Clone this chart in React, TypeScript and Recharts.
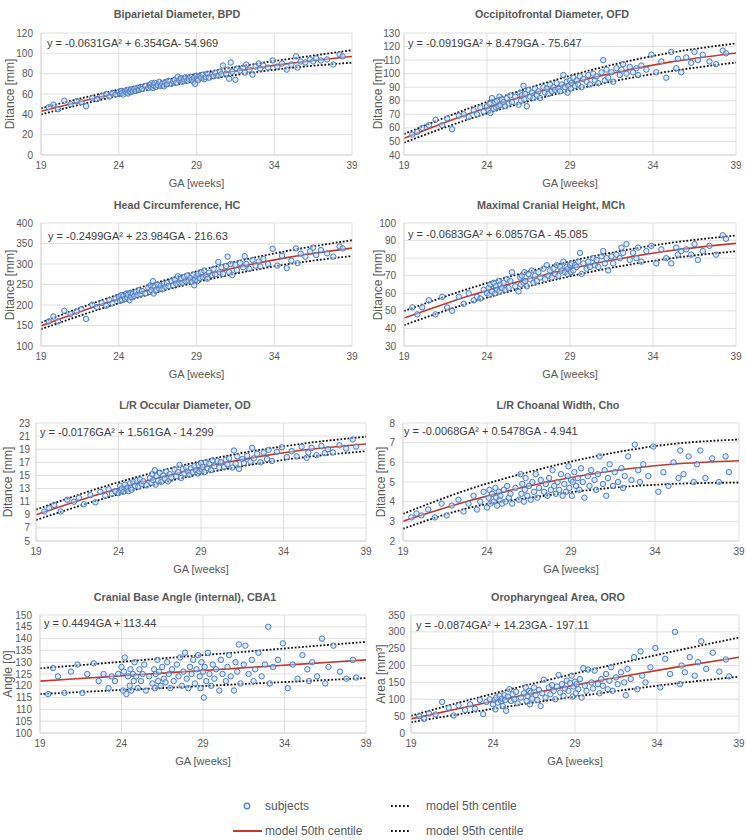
import React from "react";
import { ComposedChart, Scatter, Line, XAxis, YAxis, CartesianGrid } from "recharts";

// gestational age of each subject (weeks), shared by all panels
const GA = [
  19.5, 19.8, 20.1, 20.5, 20.9, 21.3, 21.6, 21.9, 22.3, 22.6,
  22.9, 23.2, 23.4, 23.6, 23.8, 24.0, 24.1, 24.15, 24.2, 24.3,
  24.4, 24.5, 24.55, 24.6, 24.7, 24.75, 24.8, 24.9, 25.0, 25.1,
  25.2, 25.3, 25.4, 25.5, 25.7, 25.9, 26.0, 26.05, 26.1, 26.2,
  26.25, 26.3, 26.4, 26.5, 26.6, 26.7, 26.8, 26.9, 27.0, 27.1,
  27.2, 27.4, 27.5, 27.6, 27.7, 27.8, 27.9, 28.0, 28.1, 28.2,
  28.3, 28.4, 28.5, 28.6, 28.7, 28.8, 28.85, 28.9, 29.0, 29.05,
  29.1, 29.2, 29.3, 29.4, 29.5, 29.6, 29.7, 29.8, 30.0, 30.1,
  30.2, 30.4, 30.5, 30.6, 30.7, 30.9, 31.0, 31.1, 31.2, 31.3,
  31.5, 31.6, 31.8, 32.0, 32.1, 32.2, 32.4, 32.6, 32.8, 33.0,
  33.1, 33.3, 33.6, 33.9, 34.2, 34.5, 34.8, 35.1, 35.4, 35.5,
  35.7, 36.0, 36.3, 36.5, 36.7, 37.0, 37.4, 37.8, 38.2, 38.4,
];

const BPD = [
  47, 49.5, 45, 53.5, 50, 53, 52, 48, 56, 55,
  58, 60, 57.5, 61, 59.5, 62, 60, 63, 61, 59.5,
  62.5, 61.5, 64, 60.5, 63, 62, 64.5, 62.5, 65, 63,
  66, 64, 67, 65, 68, 66, 69, 67, 70.5, 66,
  68.5, 71, 67, 69, 72, 68, 70, 67.5, 71.5, 69.5,
  73, 70, 72.5, 74, 71, 77, 73.5, 75.5, 72, 74.5,
  76.5, 73, 75, 77, 74, 72, 76, 70, 78, 75,
  73.5, 77.5, 76, 79, 74.5, 77, 80, 76, 79, 77.5,
  81, 78, 82, 79.5, 88, 80, 84, 75, 91, 82,
  74, 85, 83, 86, 81, 89, 84, 79, 87, 90,
  85, 88, 86, 93, 87, 90, 84, 89, 97, 86,
  92, 91, 94, 92, 95, 93, 94, 89, 99, 97,
];

const OFD = [
  55, 57, 60, 62, 66, 62, 67, 59, 69, 70,
  68, 73, 70, 75, 72, 76, 73, 78, 71, 82,
  74, 79, 75, 80, 76, 83, 77, 81, 79, 76,
  82, 78, 84, 79, 83, 77, 86, 80, 84, 91,
  81, 85, 76, 88, 83, 86, 82, 89, 84, 87,
  82, 90, 86, 89, 85, 92, 87, 90, 88, 93,
  89, 87, 92, 99, 90, 94, 86, 91, 95, 89,
  93, 97, 91, 95, 92, 98, 90, 96, 94, 99,
  92, 100, 95, 98, 93, 101, 110, 95, 103, 97,
  101, 94, 104, 99, 103, 107, 100, 105, 101, 104,
  99, 106, 103, 114, 101, 109, 97, 116, 104, 111,
  101, 112, 108, 116, 110, 114, 109, 107, 117, 115,
];

const HC = [
  160, 172, 160, 186, 178, 184, 190, 166, 201, 195,
  205, 198, 212, 204, 216, 220, 210, 224, 213, 222,
  215, 228, 218, 225, 212, 230, 220, 227, 222, 232,
  224, 236, 226, 234, 228, 242, 232, 248, 236, 258,
  228, 245, 236, 250, 240, 247, 238, 252, 244, 254,
  246, 258, 248, 262, 252, 270, 255, 264, 254, 268,
  258, 272, 260, 266, 256, 274, 248, 262, 270, 258,
  276, 265, 280, 268, 284, 272, 264, 279, 273, 288,
  275, 305, 280, 292, 276, 295, 318, 280, 300, 273,
  298, 285, 303, 292, 319, 300, 288, 310, 296, 306,
  294, 312, 300, 337, 296, 320, 290, 308, 338, 302,
  325, 318, 331, 340, 322, 334, 326, 318, 343, 338,
];

const MCH = [
  52, 48, 52, 56, 48, 58, 52, 50, 58, 54,
  60, 56, 58, 57, 62, 60, 63, 59, 65, 61,
  66, 60, 64, 62, 67, 61, 65, 63, 66, 62,
  68, 63, 67, 72, 64, 61, 69, 65, 70, 66,
  72, 67, 64, 71, 68, 73, 66, 70, 67, 72,
  69, 74, 68, 76, 70, 73, 69, 74, 71, 76,
  70, 75, 73, 78, 72, 75, 71, 74, 76, 72,
  77, 73, 76, 75, 78, 83, 71, 77, 74, 78,
  75, 80, 76, 79, 75, 81, 84, 77, 80, 73,
  81, 77, 82, 80, 86, 83, 88, 79, 83, 80,
  86, 78, 84, 87, 77, 85, 80, 77, 86, 82,
  84, 85, 82, 88, 79, 84, 87, 82, 93, 91,
];

const OD = [
  9.5, 10.0, 10.5, 9.5, 11.3, 11.0, 11.6, 10.6, 12.0, 10.9,
  12.5, 11.9, 12.9, 12.2, 12.6, 12.3, 13.4, 12.7, 13.0, 12.5,
  13.6, 12.9, 13.2, 12.6, 13.8, 13.1, 12.8, 14.0, 13.4, 14.2,
  13.3, 14.4, 13.7, 14.1, 13.5, 14.6, 13.9, 15.2, 14.3, 15.8,
  13.6, 14.9, 14.2, 15.4, 14.0, 15.0, 14.5, 15.6, 14.1, 15.2,
  14.7, 15.9, 14.9, 15.5, 16.6, 14.6, 16.0, 15.3, 16.2, 15.6,
  15.1, 16.1, 15.5, 16.4, 15.8, 15.3, 16.6, 15.6, 16.9, 15.9,
  16.3, 15.5, 17.0, 16.1, 16.8, 15.8, 17.3, 16.4, 17.2, 16.2,
  17.0, 16.3, 17.4, 16.7, 17.6, 16.2, 18.8, 16.8, 17.9, 16.0,
  17.5, 16.9, 18.0, 17.1, 19.2, 17.6, 18.3, 17.0, 18.5, 17.5,
  18.9, 17.2, 18.6, 19.3, 17.8, 18.7, 17.9, 19.4, 17.7, 18.5,
  19.2, 18.1, 19.5, 18.4, 19.0, 18.5, 19.6, 19.1, 20.5, 19.4,
];

const CHO = [
  3.2, 3.4, 3.3, 3.6, 3.2, 3.9, 3.3, 3.8, 4.1, 3.5,
  3.9, 4.3, 3.6, 4.0, 4.5, 3.7, 4.2, 4.6, 3.9, 4.4,
  4.0, 4.7, 4.2, 3.8, 4.5, 4.1, 4.3, 3.9, 4.6, 4.0,
  4.8, 4.2, 4.4, 3.9, 4.7, 4.1, 5.4, 4.4, 4.9, 4.0,
  4.6, 5.2, 4.3, 4.8, 4.1, 5.0, 4.5, 5.4, 4.2, 4.7,
  5.1, 4.5, 4.9, 4.3, 5.2, 4.6, 5.6, 4.8, 4.4, 5.0,
  4.6, 5.4, 4.3, 4.9, 4.5, 5.3, 5.8, 4.7, 5.1, 4.3,
  5.0, 5.5, 4.8, 5.2, 4.6, 5.7, 5.0, 4.2, 5.3, 4.8,
  5.6, 5.1, 4.6, 5.4, 6.3, 4.9, 5.6, 4.3, 5.2, 5.9,
  4.8, 5.5, 5.0, 5.7, 4.7, 5.3, 6.3, 5.1, 6.9, 5.6,
  5.0, 5.9, 5.3, 6.8, 4.5, 5.5, 4.8, 6.0, 5.2, 6.6,
  5.4, 6.3, 5.0, 5.9, 6.6, 5.2, 6.2, 5.0, 6.3, 5.5,
];

const CBA1 = [
  116.5, 127.5, 124, 117, 126, 129, 117, 125, 129.5, 122,
  125, 119, 124, 122, 125, 128, 118, 126, 132, 116.5,
  124, 120, 127, 118, 125, 122, 130, 124, 119, 127,
  122, 125, 129, 118, 124, 121, 127, 119, 125, 131,
  122, 126, 120, 128, 123, 121.5, 130, 125, 119, 127,
  122, 129, 124, 132, 120, 126, 134, 123, 119, 128,
  125, 131, 121, 127, 133, 124, 119, 130, 126, 115,
  128, 122, 134, 125, 120, 129, 123, 127, 118, 131,
  125, 122, 128, 133, 124, 118, 130, 126, 137.5, 121,
  129, 137, 125, 131, 122, 127, 134, 124, 129, 145,
  121, 128, 131, 138, 119, 129, 123, 133, 127, 122,
  130, 124, 140, 121, 128, 137, 126, 123, 131, 123.5,
];

const ORO = [
  50, 42, 58, 55, 92, 75, 52, 82, 68, 85,
  72, 98, 56, 92, 100, 85, 98, 70, 105, 90,
  110, 95, 102, 80, 112, 98, 66, 108, 130, 95,
  115, 100, 122, 88, 105, 118, 135, 95, 110, 125,
  85, 120, 102, 135, 112, 98, 128, 80, 118, 158,
  105, 135, 115, 142, 125, 100, 138, 172, 120, 145,
  110, 132, 155, 125, 148, 170, 108, 138, 152, 118,
  145, 130, 160, 105, 192, 140, 125, 188, 150, 132,
  185, 145, 118, 160, 140, 175, 130, 155, 195, 125,
  165, 145, 180, 150, 112, 190, 160, 225, 130, 242,
  170, 150, 195, 252, 135, 220, 175, 300, 145, 200,
  180, 225, 170, 210, 272, 190, 238, 182, 218, 168,
];

// model centiles, read at these GA values
const CURVE_GA = [19, 23, 27, 31, 35, 39];

const BPD_P5 = [40, 54.8, 67.4, 77.6, 85.6, 90.8];
const BPD_P50 = [43.0, 57.8, 70.6, 81.4, 90.1, 96.9];
const BPD_P95 = [46, 60.8, 73.8, 85.2, 94.6, 103];

const OFD_P5 = [49.1, 66.8, 81.3, 92.9, 101.7, 108.2];
const OFD_P50 = [52.3, 70.8, 86.3, 98.9, 108.5, 115.3];
const OFD_P95 = [55.5, 74.8, 91.3, 104.9, 115.3, 122.3];

const HC_P5 = [140.8, 192.6, 236.6, 272.4, 300.4, 319.3];
const HC_P50 = [148.9, 202.8, 248.8, 286.7, 316.7, 338.7];
const HC_P95 = [157, 213, 261, 301, 333, 358];

const MCH_P5 = [41.9, 54.7, 65.2, 73.6, 79.8, 83.9];
const MCH_P50 = [45.9, 58.8, 69.4, 77.9, 84.2, 88.4];
const MCH_P95 = [49.9, 62.9, 73.6, 82.2, 88.6, 92.9];

const OD_P5 = [8.2, 11.4, 14.1, 16.2, 17.7, 18.7];
const OD_P50 = [9.0, 12.3, 15.0, 17.2, 18.8, 19.8];
const OD_P95 = [9.8, 13.2, 16.0, 18.2, 19.8, 20.9];

const CHO_P5 = [2.62, 3.7, 4.25, 4.67, 4.9, 4.97];
const CHO_P50 = [3.01, 4.06, 4.89, 5.51, 5.9, 6.08];
const CHO_P95 = [3.38, 4.65, 5.62, 6.4, 6.93, 7.16];

const CBA1_P5 = [116.5, 117.9, 119.2, 120.6, 121.9, 123.3];
const CBA1_P50 = [122.0, 123.8, 125.6, 127.4, 129.2, 131.0];
const CBA1_P95 = [127.4, 129.6, 131.9, 134.1, 136.4, 138.6];

const ORO_P5 = [32, 64, 94, 121, 146, 167];
const ORO_P50 = [41.7, 84.0, 123.4, 160.0, 193.9, 224.9];
const ORO_P95 = [51, 104, 153, 199, 242, 283];

const GA_TICKS = [19, 24, 29, 34, 39];
const BPD_TICKS = [0, 20, 40, 60, 80, 100, 120];
const OFD_TICKS = [40, 50, 60, 70, 80, 90, 100, 110, 120, 130];
const HC_TICKS = [100, 150, 200, 250, 300, 350, 400];
const MCH_TICKS = [30, 40, 50, 60, 70, 80, 90, 100];
const OD_TICKS = [5, 7, 9, 11, 13, 15, 17, 19, 21, 23];
const CHO_TICKS = [2, 3, 4, 5, 6, 7, 8];
const CBA1_TICKS = [100, 105, 110, 115, 120, 125, 130, 135, 140, 145, 150];
const ORO_TICKS = [0, 50, 100, 150, 200, 250, 300, 350];

const FONT = '"Liberation Sans", Arial, sans-serif';
const TEXT = "#595959";
const GRID = "#d9d9d9";

const PANELS = [
  { title: "Biparietal Diameter, BPD", eq: "y = -0.0631GA\u00b2 + 6.354GA- 54.969", yLabel: "Ditance [mm]",
    values: BPD, p5: BPD_P5, p50: BPD_P50, p95: BPD_P95, ticks: BPD_TICKS,
    col: 0, l: 41, t: 33, r: 352, b: 155, titleX: 177, titleY: 14, eqX: 47, eqY: 43, yLabX: 10, tm: 8 },
  { title: "Occipitofrontal Diameter, OFD", eq: "y = -0.0919GA\u00b2 + 8.479GA - 75.647", yLabel: "Ditance [mm]",
    values: OFD, p5: OFD_P5, p50: OFD_P50, p95: OFD_P95, ticks: OFD_TICKS,
    col: 1, l: 404, t: 33, r: 736, b: 155, titleX: 552, titleY: 14, eqX: 408, eqY: 43, yLabX: 378, tm: 4 },
  { title: "Head Circumference, HC", eq: "y = -0.2499GA\u00b2 + 23.984GA - 216.63", yLabel: "Ditance [mm]",
    values: HC, p5: HC_P5, p50: HC_P50, p95: HC_P95, ticks: HC_TICKS,
    col: 0, l: 41, t: 223, r: 352, b: 346, titleX: 177, titleY: 205, eqX: 48, eqY: 236, yLabX: 10, tm: 8 },
  { title: "Maximal Cranial Height, MCh", eq: "y = -0.0683GA\u00b2 + 6.0857GA - 45.085", yLabel: "Ditance [mm]",
    values: MCH, p5: MCH_P5, p50: MCH_P50, p95: MCH_P95, ticks: MCH_TICKS,
    col: 1, l: 404, t: 223, r: 736, b: 346, titleX: 551, titleY: 205, eqX: 408, eqY: 234, yLabX: 378, tm: 8 },
  { title: "L/R Occular Diameter, OD", eq: "y = -0.0176GA\u00b2 + 1.561GA - 14.299", yLabel: "Ditance [mm]",
    values: OD, p5: OD_P5, p50: OD_P50, p95: OD_P95, ticks: OD_TICKS,
    col: 0, l: 36, t: 423, r: 366, b: 541, titleX: 185, titleY: 405, eqX: 40, eqY: 432, yLabX: 8, tm: 6 },
  { title: "L/R Choanal Width, Cho", eq: "y = -0.0068GA\u00b2 + 0.5478GA - 4.941", yLabel: "Ditance [mm]",
    values: CHO, p5: CHO_P5, p50: CHO_P50, p95: CHO_P95, ticks: CHO_TICKS,
    col: 1, l: 403, t: 423, r: 739, b: 541, titleX: 558, titleY: 405, eqX: 404, eqY: 431, yLabX: 381, tm: 8 },
  { title: "Cranial Base Angle (internal), CBA1", eq: "y = 0.4494GA + 113.44", yLabel: "Angle [0]",
    values: CBA1, p5: CBA1_P5, p50: CBA1_P50, p95: CBA1_P95, ticks: CBA1_TICKS,
    col: 0, l: 40, t: 615, r: 366, b: 733, titleX: 185, titleY: 597, eqX: 44, eqY: 623, yLabX: 8, tm: 8 },
  { title: "Oropharyngeal Area, ORO", eq: "y = -0.0874GA\u00b2 + 14.23GA - 197.11", yLabel: "Area [mm\u00b3]",
    values: ORO, p5: ORO_P5, p50: ORO_P50, p95: ORO_P95, ticks: ORO_TICKS,
    col: 1, l: 411, t: 615, r: 739, b: 733, titleX: 558, titleY: 597, eqX: 416, eqY: 625, yLabX: 381, tm: 6 },
];

const curve = (ys: number[]) => CURVE_GA.map((x, i) => ({ x, y: ys[i] }));

const Dot = (p: any) => (
  <circle cx={p.cx} cy={p.cy} r={2.7} fill="rgba(189,215,238,0.5)" stroke="#4a7cc9" strokeWidth={1} />
);

function Panel({ p }: { p: (typeof PANELS)[number] }) {
  const boxL = p.col === 0 ? 0 : 373;
  const W = 373;
  const top = p.t - 6;
  const H = p.b - top + 24;
  const points = GA.map((x, i) => ({ x, y: p.values[i] }));
  const yMin = p.ticks[0];
  const yMax = p.ticks[p.ticks.length - 1];
  const txt: React.CSSProperties = { position: "absolute", whiteSpace: "nowrap", color: TEXT, lineHeight: 1 };
  return (
    <>
      <div style={{ position: "absolute", left: boxL, top, width: W, height: H }}>
        <ComposedChart width={W} height={H} margin={{ top: 6, right: boxL + W - p.r, bottom: 0, left: 0 }}>
          <CartesianGrid stroke={GRID} strokeWidth={0.8} />
          <XAxis
            type="number"
            dataKey="x"
            domain={[19, 39]}
            ticks={GA_TICKS}
            allowDataOverflow
            height={24}
            tickSize={0}
            tickMargin={7}
            axisLine={{ stroke: GRID }}
            tick={{ fontSize: 10, fill: TEXT, fontFamily: FONT }}
          />
          <YAxis
            type="number"
            dataKey="y"
            domain={[yMin, yMax]}
            ticks={p.ticks}
            allowDataOverflow
            interval={0}
            width={p.l - boxL}
            tickSize={0}
            tickMargin={p.tm}
            axisLine={{ stroke: GRID }}
            tick={{ fontSize: 10, fill: TEXT, fontFamily: FONT }}
          />
          <Scatter data={points} shape={Dot} isAnimationActive={false} />
          <Line data={curve(p.p50)} dataKey="y" type="monotone" stroke="#c0392b" strokeWidth={1.6} dot={false} isAnimationActive={false} />
          <Line data={curve(p.p5)} dataKey="y" type="monotone" stroke="#111" strokeWidth={1.8} strokeDasharray="1.8 1.8" dot={false} isAnimationActive={false} />
          <Line data={curve(p.p95)} dataKey="y" type="monotone" stroke="#111" strokeWidth={1.8} strokeDasharray="1.8 1.8" dot={false} isAnimationActive={false} />
        </ComposedChart>
      </div>
      <div style={{ ...txt, left: p.titleX, top: p.titleY, transform: "translate(-50%,-50%)", fontSize: 10.8, fontWeight: "bold" }}>
        {p.title}
      </div>
      <div style={{ ...txt, left: p.eqX, top: p.eqY, transform: "translateY(-50%)", fontSize: 11, color: "#404040" }}>
        {p.eq}
      </div>
      <div style={{ ...txt, left: p.yLabX, top: (p.t + p.b) / 2, transform: "translate(-50%,-50%) rotate(-90deg)", fontSize: 12 }}>
        {p.yLabel}
      </div>
      <div style={{ ...txt, left: (p.l + p.r) / 2, top: p.b + 28, transform: "translate(-50%,-50%)", fontSize: 11 }}>
        GA [weeks]
      </div>
    </>
  );
}

function Legend() {
  const txt: React.CSSProperties = { position: "absolute", whiteSpace: "nowrap", color: TEXT, fontSize: 12, lineHeight: 1, transform: "translateY(-50%)" };
  return (
    <>
      <svg style={{ position: "absolute", left: 0, top: 790 }} width={746} height={50}>
        <circle cx={247} cy={16} r={2.8} fill="rgba(189,215,238,0.5)" stroke="#4a7cc9" strokeWidth={1.2} />
        <line x1={233} x2={262} y1={41} y2={41} stroke="#c0392b" strokeWidth={2} />
        <line x1={391} x2={411} y1={16} y2={16} stroke="#111" strokeWidth={1.8} strokeDasharray="1.8 2.2" />
        <line x1={391} x2={411} y1={41} y2={41} stroke="#111" strokeWidth={1.8} strokeDasharray="1.8 2.2" />
      </svg>
      <div style={{ ...txt, left: 265, top: 806 }}>subjects</div>
      <div style={{ ...txt, left: 265, top: 831 }}>model 50th centile</div>
      <div style={{ ...txt, left: 426, top: 806 }}>model 5th centile</div>
      <div style={{ ...txt, left: 426, top: 831 }}>model 95th centile</div>
    </>
  );
}

export default function App() {
  return (
    <div style={{ position: "absolute", left: 0, top: 0, width: 746, height: 840, background: "#fff", fontFamily: FONT }}>
      {PANELS.map((p) => (
        <Panel key={p.title} p={p} />
      ))}
      <Legend />
    </div>
  );
}
